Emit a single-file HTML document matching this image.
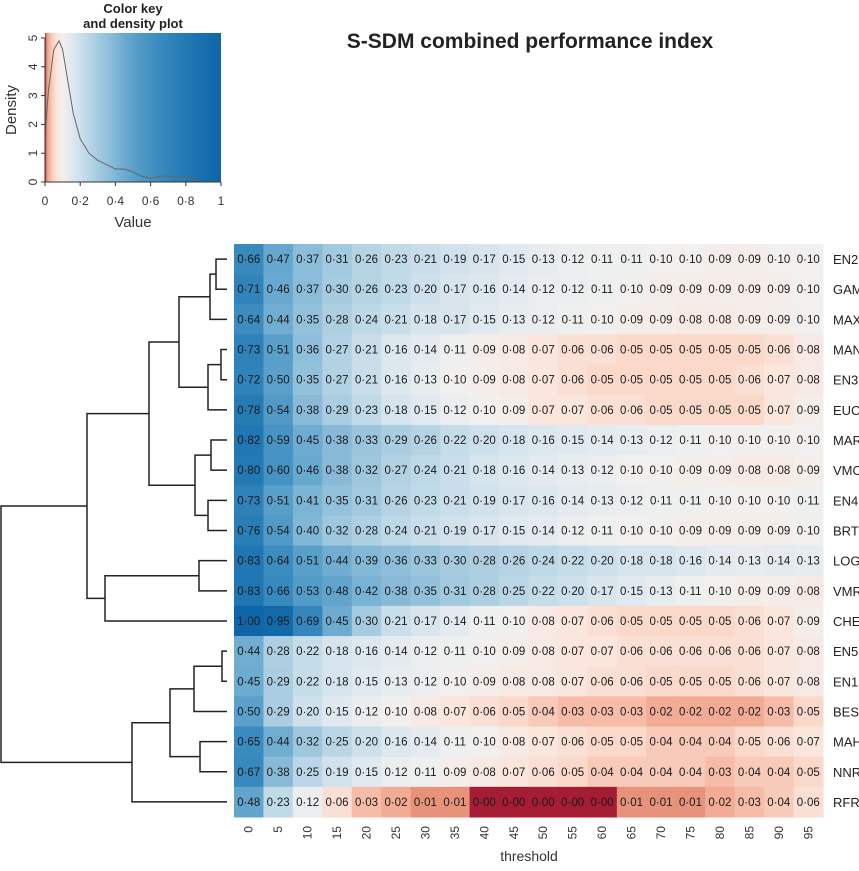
<!DOCTYPE html>
<html><head><meta charset="utf-8"><style>
body{margin:0;background:#fff;width:859px;height:866px;overflow:hidden;font-family:"Liberation Sans",Arial,sans-serif}
svg text{font-family:"Liberation Sans",Arial,sans-serif}
</style></head><body>
<svg id="chart" width="859" height="866" xmlns="http://www.w3.org/2000/svg">
<defs><linearGradient id="keyGrad" x1="0" x2="1" y1="0" y2="0"></linearGradient></defs>
<text x="530" y="48" text-anchor="middle" font-size="21" font-weight="bold" fill="#222">S-SDM combined performance index</text>
<g id="key"></g>
<g id="dendro"></g>
<g id="cells"></g>
<g id="labels"></g>
<text x="529" y="861" text-anchor="middle" font-size="14" fill="#333">threshold</text>
</svg>
<script>
const rowNames=["EN2","GAM","MAX","MAN","EN3","EUC","MAR","VMO","EN4","BRT","LOG","VMR","CHE","EN5","EN1","BES","MAH","NNR","RFR"];
const thresholds=[0,5,10,15,20,25,30,35,40,45,50,55,60,65,70,75,80,85,90,95];
const rEN2=[0.66,0.47,0.37,0.31,0.26,0.23,0.21,0.19,0.17,0.15,0.13,0.12,0.11,0.11,0.10,0.10,0.09,0.09,0.10,0.10];
const rGAM=[0.71,0.46,0.37,0.30,0.26,0.23,0.20,0.17,0.16,0.14,0.12,0.12,0.11,0.10,0.09,0.09,0.09,0.09,0.09,0.10];
const rMAX=[0.64,0.44,0.35,0.28,0.24,0.21,0.18,0.17,0.15,0.13,0.12,0.11,0.10,0.09,0.09,0.08,0.08,0.09,0.09,0.10];
const rMAN=[0.73,0.51,0.36,0.27,0.21,0.16,0.14,0.11,0.09,0.08,0.07,0.06,0.06,0.05,0.05,0.05,0.05,0.05,0.06,0.08];
const rEN3=[0.72,0.50,0.35,0.27,0.21,0.16,0.13,0.10,0.09,0.08,0.07,0.06,0.05,0.05,0.05,0.05,0.05,0.06,0.07,0.08];
const rEUC=[0.78,0.54,0.38,0.29,0.23,0.18,0.15,0.12,0.10,0.09,0.07,0.07,0.06,0.06,0.05,0.05,0.05,0.05,0.07,0.09];
const rMAR=[0.82,0.59,0.45,0.38,0.33,0.29,0.26,0.22,0.20,0.18,0.16,0.15,0.14,0.13,0.12,0.11,0.10,0.10,0.10,0.10];
const rVMO=[0.80,0.60,0.46,0.38,0.32,0.27,0.24,0.21,0.18,0.16,0.14,0.13,0.12,0.10,0.10,0.09,0.09,0.08,0.08,0.09];
const rEN4=[0.73,0.51,0.41,0.35,0.31,0.26,0.23,0.21,0.19,0.17,0.16,0.14,0.13,0.12,0.11,0.11,0.10,0.10,0.10,0.11];
const rBRT=[0.76,0.54,0.40,0.32,0.28,0.24,0.21,0.19,0.17,0.15,0.14,0.12,0.11,0.10,0.10,0.09,0.09,0.09,0.09,0.10];
const rLOG=[0.83,0.64,0.51,0.44,0.39,0.36,0.33,0.30,0.28,0.26,0.24,0.22,0.20,0.18,0.18,0.16,0.14,0.13,0.14,0.13];
const rVMR=[0.83,0.66,0.53,0.48,0.42,0.38,0.35,0.31,0.28,0.25,0.22,0.20,0.17,0.15,0.13,0.11,0.10,0.09,0.09,0.08];
const rCHE=[1.00,0.95,0.69,0.45,0.30,0.21,0.17,0.14,0.11,0.10,0.08,0.07,0.06,0.05,0.05,0.05,0.05,0.06,0.07,0.09];
const rEN5=[0.44,0.28,0.22,0.18,0.16,0.14,0.12,0.11,0.10,0.09,0.08,0.07,0.07,0.06,0.06,0.06,0.06,0.06,0.07,0.08];
const rEN1=[0.45,0.29,0.22,0.18,0.15,0.13,0.12,0.10,0.09,0.08,0.08,0.07,0.06,0.06,0.05,0.05,0.05,0.06,0.07,0.08];
const rBES=[0.50,0.29,0.20,0.15,0.12,0.10,0.08,0.07,0.06,0.05,0.04,0.03,0.03,0.03,0.02,0.02,0.02,0.02,0.03,0.05];
const rMAH=[0.65,0.44,0.32,0.25,0.20,0.16,0.14,0.11,0.10,0.08,0.07,0.06,0.05,0.05,0.04,0.04,0.04,0.05,0.06,0.07];
const rNNR=[0.67,0.38,0.25,0.19,0.15,0.12,0.11,0.09,0.08,0.07,0.06,0.05,0.04,0.04,0.04,0.04,0.03,0.04,0.04,0.05];
const rRFR=[0.48,0.23,0.12,0.06,0.03,0.02,0.01,0.01,0.00,0.00,0.00,0.00,0.00,0.01,0.01,0.01,0.02,0.03,0.04,0.06];
const matrix=[rEN2,rGAM,rMAX,rMAN,rEN3,rEUC,rMAR,rVMO,rEN4,rBRT,rLOG,rVMR,rCHE,rEN5,rEN1,rBES,rMAH,rNNR,rRFR];
const densX=[0,0.02,0.05,0.08,0.1,0.13,0.16,0.2,0.25,0.3,0.35,0.4,0.45,0.5,0.55,0.6,0.65,0.7,0.75,0.8,0.85,0.9,1];
const densY=[1.6,3.2,4.6,4.9,4.6,3.5,2.4,1.5,1.0,0.75,0.6,0.45,0.45,0.35,0.2,0.12,0.2,0.2,0.15,0.15,0.05,0,0];
const densTicks=[0,1,2,3,4,5];
const valTicks=[0,0.2,0.4,0.6,0.8,1];
const merges=[[0,1,216],[19,2,210],[3,4,221],[21,5,208],[20,22,179],[6,7,211],[8,9,208],[24,25,195],[23,26,149],[10,11,199],[28,12,105],[27,29,87],[13,14,222],[31,15,194],[16,17,200],[32,33,170],[34,18,132],[30,35,1]];

const NS="http://www.w3.org/2000/svg";
function mk(tag,attrs,parent){const e=document.createElementNS(NS,tag);for(const k in attrs)e.setAttribute(k,attrs[k]);parent.appendChild(e);return e;}
const stops=[[0,"#a51d35"],[0.01,"#e8917b"],[0.02,"#f2ab94"],[0.03,"#f6bca8"],[0.05,"#fad8ca"],[0.07,"#fae6dd"],[0.1,"#f2f0ef"],[0.15,"#e0e9ef"],[0.2,"#cde0eb"],[0.3,"#a6cbe0"],[0.4,"#80b6d6"],[0.5,"#5aa0ca"],[0.65,"#3a8bbf"],[0.8,"#2379b4"],[1,"#0e65a8"]];
function hx(c){return[1,3,5].map(i=>parseInt(c.substr(i,2),16));}
function color(v){for(let i=1;i<stops.length;i++){if(v<=stops[i][0]+1e-9){const[a,ca]=stops[i-1],[b,cb]=stops[i];const t=(v-a)/(b-a);const A=hx(ca),B=hx(cb);return "rgb("+A.map((x,j)=>Math.round(x+(B[j]-x)*t)).join(",")+")";}}return stops[stops.length-1][1];}

const X0=234,X1=823,Y0=244,Y1=817;
const cw=(X1-X0)/thresholds.length, ch=(Y1-Y0)/rowNames.length;
const xCol=i=>X0+i*cw, yRow=i=>Y0+i*ch;
const cells=document.getElementById('cells'),labels=document.getElementById('labels');
matrix.forEach((row,r)=>{row.forEach((v,c)=>{
  const rc=mk('rect',{x:xCol(c),y:yRow(r),width:cw+0.5,height:ch+0.5,fill:color(v)},cells);
  
  
  const t=mk('text',{x:xCol(c)+cw/2,y:yRow(r)+ch/2+4,'text-anchor':'middle','font-size':'11.5',fill:'#1a1a1a'},cells);
  t.textContent=v.toFixed(2).replace('.','·');
  
  
});
const lb=mk('text',{x:833,y:yRow(r)+ch/2+5,'font-size':'13',fill:'#222'},labels);
lb.textContent=rowNames[r];


});
thresholds.forEach((t,c)=>{const x=xCol(c)+cw/2+4,y=826;
const e=mk('text',{x:x,y:y,transform:'rotate(-90 '+x+' '+y+')','text-anchor':'end','font-size':'12',fill:'#333'},labels);
e.textContent=t;

});

const dg=document.getElementById('dendro');const nodes=rowNames.map((n,i)=>({y:yRow(i)+ch/2,h:227}));
merges.forEach(([a,b,h])=>{const A=nodes[a],B=nodes[b];
const p=mk('path',{d:`M${A.h},${A.y}H${h}V${B.y}H${B.h}`,fill:'none',stroke:'#222','stroke-width':'1.5'},dg);


nodes.push({y:(A.y+B.y)/2,h:h});});

const KX0=45,KX1=221,KY0=182,KY1=38;
const kx=v=>KX0+v*(KX1-KX0), ky=d=>KY0-d*(KY0-KY1)/5;
const g=document.getElementById('keyGrad');stops.forEach(([o,c])=>mk('stop',{offset:o,'stop-color':c},g));
const key=document.getElementById('key');
mk('text',{x:133,y:13,'text-anchor':'middle','font-size':'13','font-weight':'bold',fill:'#222'},key).textContent='Color key';
mk('text',{x:133,y:28,'text-anchor':'middle','font-size':'13','font-weight':'bold',fill:'#222'},key).textContent='and density plot';
mk('rect',{x:KX0,y:33,width:KX1-KX0,height:KY0-33,fill:'url(#keyGrad)'},key);
const pts=densX.map((x,i)=>kx(x)+','+ky(densY[i])).join(' ');
const dl=mk('polyline',{points:pts,fill:'none',stroke:'#666','stroke-width':'1'},key);


mk('line',{x1:KX0,x2:KX1,y1:KY0,y2:KY0,stroke:'#333'},key);
mk('line',{x1:KX0,x2:KX0,y1:KY0,y2:KY1,stroke:'#333'},key);
densTicks.forEach(d=>{mk('line',{x1:KX0-4,x2:KX0,y1:ky(d),y2:ky(d),stroke:'#333'},key);
const x=KX0-8,y=ky(d);mk('text',{x:x,y:y,transform:'rotate(-90 '+x+' '+y+')','text-anchor':'middle','font-size':'12',fill:'#333'},key).textContent=d;});
valTicks.forEach(v=>{mk('line',{x1:kx(v),x2:kx(v),y1:KY0,y2:KY0+4,stroke:'#333'},key);
mk('text',{x:kx(v),y:205,'text-anchor':'middle','font-size':'12',fill:'#333'},key).textContent=v===0||v===1?v:String(v).replace('.','·');});
mk('text',{x:133,y:227,'text-anchor':'middle','font-size':'15',fill:'#333'},key).textContent='Value';
mk('text',{x:16,y:110,transform:'rotate(-90 16 110)','text-anchor':'middle','font-size':'15',fill:'#333'},key).textContent='Density';
</script>
</body></html>
